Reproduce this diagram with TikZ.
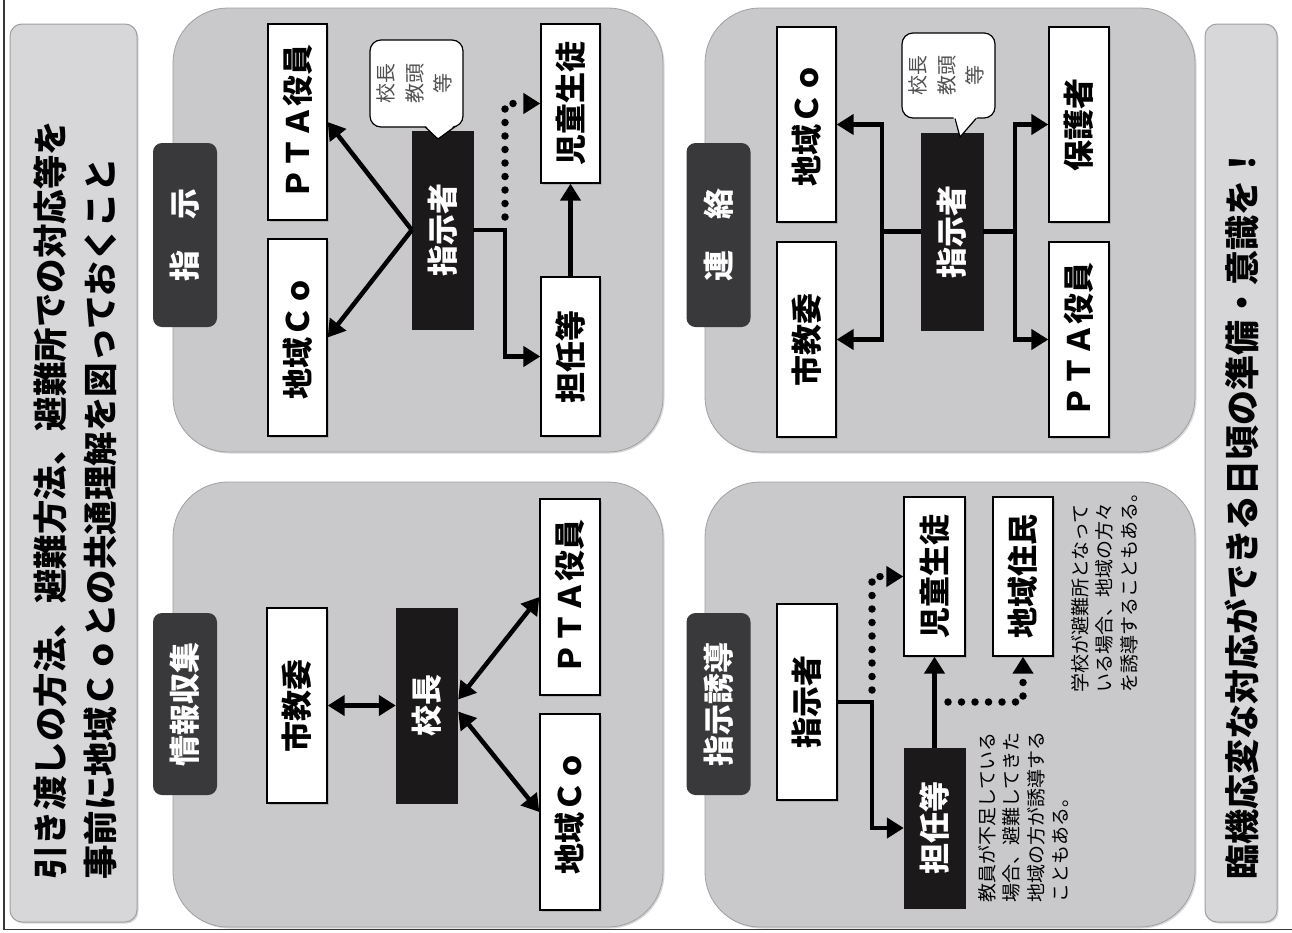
\documentclass[tikz,border=0pt]{standalone}
\usepackage{fontspec}
\setmainfont{Noto Sans CJK JP}
\usepackage{graphicx}
\usetikzlibrary{arrows.meta,calc,shadows}
\definecolor{panelgray}{RGB}{201,201,203}
\definecolor{titlegray}{RGB}{215,215,218}
\definecolor{tabdark}{RGB}{57,57,60}
\definecolor{boxblack}{RGB}{27,25,25}
\definecolor{edgegray}{RGB}{160,160,162}
\definecolor{framegray}{RGB}{55,55,55}
\definecolor{bubbletext}{RGB}{80,80,80}
\newcommand{\rotlabel}[1]{\rotatebox{90}{#1}}
\newcommand{\rotlines}[2]{\rotatebox{90}{\begin{tabular}{@{}#1@{}}#2\end{tabular}}}
\newcommand{\boxfont}{\bfseries\fontsize{31}{31}\selectfont}
\newcommand{\tabfont}{\bfseries\fontsize{31}{31}\selectfont}
\newcommand{\titlefont}{\bfseries\fontsize{34.5}{50}\selectfont}
\newcommand{\notefont}{\fontsize{19}{24.5}\selectfont}
\newcommand{\bubfont}{\fontsize{20}{28.5}\selectfont}
\begin{document}
\begin{tikzpicture}[x=1pt,y=-1pt,
  panel/.style={fill=panelgray, draw=edgegray, line width=0.8pt, rounded corners=55pt,
     drop shadow={shadow xshift=1.5pt, shadow yshift=-1.5pt, opacity=0.3}},
  titlebox/.style={fill=titlegray, draw=edgegray, line width=1pt, rounded corners=12pt,
     drop shadow={shadow xshift=1.5pt, shadow yshift=-1.5pt, opacity=0.3}},
  tab/.style={fill=tabdark, rounded corners=9pt, text=white, font=\tabfont, inner sep=0pt,
     minimum width=64pt},
  wbox/.style={draw=black, line width=1.3pt, fill=white, inner sep=0pt, font=\boxfont,
     drop shadow={shadow xshift=2pt, shadow yshift=-2pt, opacity=0.35}},
  bbox/.style={draw=boxblack, fill=boxblack, text=white, inner sep=0pt, font=\boxfont},
  bubble/.style={draw=black, line width=1.2pt, fill=white, rounded corners=11pt, inner sep=0pt,
     font=\bubfont, text=bubbletext},
  conn/.style={draw=black, line width=4.5pt},
  arr/.style={conn, -{Triangle[length=17pt,width=20pt]}},
  darr/.style={conn, {Triangle[length=17pt,width=20pt]}-{Triangle[length=17pt,width=20pt]}},
  dotarr/.style={draw=black, line width=7.5pt, line cap=round, dash pattern=on 0pt off 13.5pt,
     -{Triangle[length=17pt,width=20pt]}},
  tailside/.style={draw=black, line width=1.2pt, line join=round}
]
\useasboundingbox (0,0) rectangle (1292,932);
\fill[white] (0,0) rectangle (1292,932);
% outer frame
\draw[framegray, line width=1.5pt] (4,0) -- (4,929.5) -- (1292,929.5);

% side boxes
\draw[titlebox] (10,24) rectangle (137,922);
\draw[titlebox] (1205,24) rectangle (1277,922);
\node[anchor=south west, inner sep=0pt, font=\titlefont] (title) at (28,880)
  {\rotlines{l}{引き渡しの方法、避難方法、避難所での対応等を\\事前に地域Ｃｏとの共通理解を図っておくこと}};
\node[anchor=south, inner sep=0pt, font=\bfseries\fontsize{35}{35}\selectfont] (slogan) at (1242,880)
  {\rotlabel{臨機応変な対応ができる日頃の準備・意識を！}};

% panels
\draw[panel] (173,8) rectangle (663,452);
\draw[panel] (705,8) rectangle (1195,452);
\draw[panel] (173,482) rectangle (663,927);
\draw[panel] (705,482) rectangle (1195,927);

% tabs
\node[tab, minimum height=184pt] (t1) at (185,235) {\rotlabel{指　示}};
\node[tab, minimum height=184pt] (t2) at (718.5,235) {\rotlabel{連　絡}};
\node[tab, minimum height=182pt] (t3) at (185,704) {\rotlabel{情報収集}};
\node[tab, minimum height=182pt] (t4) at (718.5,704) {\rotlabel{指示誘導}};

% ---------- panel 1 : 指示 ----------
\node[wbox, minimum width=59pt, minimum height=196pt] (p1pta) at (297.5,122) {\rotlabel{ＰＴＡ役員}};
\node[wbox, minimum width=59pt, minimum height=197pt] (p1co) at (297.5,337.5) {\rotlabel{地域Ｃｏ}};
\node[wbox, minimum width=59pt, minimum height=159pt] (p1jido) at (570.5,103.5) {\rotlabel{児童生徒}};
\node[wbox, minimum width=59pt, minimum height=159pt] (p1tan) at (570.5,356.5) {\rotlabel{担任等}};
\node[bbox, minimum width=61pt, minimum height=198pt] (p1shiji) at (442.5,230) {\rotlabel{指示者}};
\node[bubble, minimum width=93pt, minimum height=87pt] (p1bub) at (416.5,83.5)
  {\rotlines{c}{校長\\教頭\\等}};
\fill[white] (424,124) -- (438,139) -- (456,124) -- cycle;
\draw[tailside] (425,126.8) -- (438,139) -- (455,126.8);

\coordinate (p1j) at (505,230);
\draw[arr] (p1shiji.west) -- (p1pta.east);
\draw[arr] (p1shiji.west) -- (p1co.east);
\draw[arr] (p1shiji.east) -- (p1j) |- (p1tan.west);
\draw[dotarr] ($(p1j)+(0,-13)$) |- (p1jido.west);
\draw[arr] (p1tan.north) -- (p1jido.south);

% ---------- panel 2 : 連絡 ----------
\node[wbox, minimum width=59pt, minimum height=195pt] (p2co) at (806.5,124.5) {\rotlabel{地域Ｃｏ}};
\node[wbox, minimum width=59pt, minimum height=195pt] (p2shi) at (806.5,339.5) {\rotlabel{市教委}};
\node[wbox, minimum width=60pt, minimum height=195pt] (p2hogo) at (1079,124.5) {\rotlabel{保護者}};
\node[wbox, minimum width=60pt, minimum height=195pt] (p2pta) at (1079,339.5) {\rotlabel{ＰＴＡ役員}};
\node[bbox, minimum width=62pt, minimum height=197pt] (p2shiji) at (952,231.5) {\rotlabel{指示者}};
\node[bubble, minimum width=93pt, minimum height=85pt] (p2bub) at (948.5,75.5)
  {\rotlines{c}{校長\\教頭\\等}};
\fill[white] (953,116) -- (960,137) -- (978,116) -- cycle;
\draw[tailside] (955,118.6) -- (960,137) -- (976,118.6);

\coordinate (p2l) at (882,231.5);
\coordinate (p2r) at (1015,231.5);
\draw[conn] (p2shiji.west) -- (p2l);
\draw[conn] (p2shiji.east) -- (p2r);
\draw[arr] (p2l) |- (p2co.east);
\draw[arr] (p2l) |- (p2shi.east);
\draw[arr] (p2r) |- (p2hogo.west);
\draw[arr] (p2r) |- (p2pta.west);

% ---------- panel 3 : 情報収集 ----------
\node[wbox, minimum width=60pt, minimum height=195pt] (p3shi) at (297,705.5) {\rotlabel{市教委}};
\node[bbox, minimum width=61pt, minimum height=195pt] (p3kocho) at (426.5,705.5) {\rotlabel{校長}};
\node[wbox, minimum width=60pt, minimum height=196pt] (p3pta) at (570,597) {\rotlabel{ＰＴＡ役員}};
\node[wbox, minimum width=60pt, minimum height=196pt] (p3co) at (570,812) {\rotlabel{地域Ｃｏ}};

\draw[darr] (p3shi.east) -- (p3kocho.west);
\draw[darr] ($(p3kocho.east)+(1,-6)$) -- (p3pta.west);
\draw[darr] ($(p3kocho.east)+(1,6)$) -- (p3co.west);

% ---------- panel 4 : 指示誘導 ----------
\node[wbox, minimum width=60pt, minimum height=196pt] (p4shiji) at (807,702) {\rotlabel{指示者}};
\node[bbox, minimum width=61pt, minimum height=160pt] (p4tan) at (934.5,828) {\rotlabel{担任等}};
\node[wbox, minimum width=61pt, minimum height=159pt] (p4jido) at (934.5,576.5) {\rotlabel{児童生徒}};
\node[wbox, minimum width=60pt, minimum height=159pt] (p4jumin) at (1023,576.5) {\rotlabel{地域住民}};

\coordinate (p4j) at (872,702);
\coordinate (p4k) at (948,702);
\draw[arr] (p4shiji.east) -- (p4j) |- (p4tan.west);
\draw[dotarr] ($(p4j)+(0,-12)$) |- (p4jido.west);
\draw[arr] (p4tan.north) -- (p4jido.south);
\draw[dotarr] (p4k) -| (p4jumin.south);

\node[anchor=south west, inner sep=0pt, font=\notefont] (n1) at (977,903)
  {\rotlines{l}{教員が不足している\\場合、避難してきた\\地域の方が誘導する\\こともある。}};
\node[anchor=south west, inner sep=0pt, font=\notefont] (n2) at (1070,693)
  {\rotlines{l}{学校が避難所となって\\いる場合、地域の方々\\を誘導することもある。}};
\end{tikzpicture}
\end{document}
